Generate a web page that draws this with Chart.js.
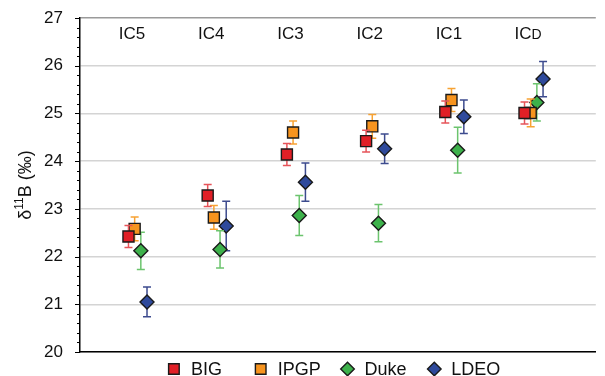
<!DOCTYPE html>
<html>
<head>
<meta charset="utf-8">
<script src="https://cdn.jsdelivr.net/npm/chart.js@4.4.1/dist/chart.umd.min.js"></script>
<style>
html,body{margin:0;padding:0;background:#fff}
canvas{display:block}
</style>
</head>
<body>
<canvas id="chart" width="605" height="376"></canvas>
<script>
const groups=['IC5','IC4','IC3','IC2','IC1','ICD'];
const seriesNames=['BIG','IPGP','Duke','LDEO'];
const big=[22.42,23.28,24.14,24.42,25.03,25.01];
const bigErr=[0.23,0.23,0.23,0.23,0.23,0.23];
const ipgp=[22.58,22.82,24.60,24.73,25.28,25.01];
const ipgpErr=[0.25,0.25,0.24,0.25,0.24,0.29];
const duke=[22.12,22.15,22.86,22.70,24.23,25.23];
const dukeErr=[0.39,0.39,0.42,0.39,0.48,0.39];
const ldeo=[21.05,22.64,23.56,24.26,24.93,25.72];
const ldeoErr=[0.31,0.52,0.40,0.31,0.35,0.37];
const yMin=20, yMax=27;

const FONT="'Liberation Sans', Arial, Helvetica, sans-serif";
const fills=['#e11f26','#f7941e','#3db14b','#2f4a9c'];
const barColors=['#e6545a','#f7a233','#6cc46e','#3d4b8e'];
const shapes=['rect','rect','rectRot','rectRot'];
const radii=[7.8,7.8,7,7];
const step=0.078; // horizontal shift of each series inside a group

const values=[big,ipgp,duke,ldeo], errors=[bigErr,ipgpErr,dukeErr,ldeoErr];

const datasets=seriesNames.map((name,k)=>({
  label:name,
  data:values[k].map((v,i)=>({x:i+k*step,y:v})),
  errors:errors[k],
  backgroundColor:fills[k],
  borderColor:'#1a1a1a',
  borderWidth:1.4,
  pointStyle:shapes[k],
  pointRadius:radii[k],
  pointHoverRadius:radii[k],
  barColor:barColors[k],
  showLine:false
}));

// error bars, drawn just under each series' markers
const errorBars={
  id:'errorBars',
  beforeDatasetDraw(chart,args){
    const ds=chart.data.datasets[args.index];
    const xs=chart.scales.x, ys=chart.scales.y, ctx=chart.ctx;
    ctx.save();
    ctx.strokeStyle=ds.barColor;ctx.lineWidth=1.5;
    ds.data.forEach((p,i)=>{
      const x=xs.getPixelForValue(p.x);
      const y1=ys.getPixelForValue(p.y+ds.errors[i]);
      const y2=ys.getPixelForValue(p.y-ds.errors[i]);
      ctx.beginPath();
      ctx.moveTo(x,y1);ctx.lineTo(x,y2);
      ctx.moveTo(x-4,y1);ctx.lineTo(x+4,y1);
      ctx.moveTo(x-4,y2);ctx.lineTo(x+4,y2);
      ctx.stroke();
    });
    ctx.restore();
  }
};

// minor ticks, top group names, axis title, legend
const decorations={
  id:'decorations',
  afterDraw(chart){
    const ctx=chart.ctx, xs=chart.scales.x, ys=chart.scales.y, a=chart.chartArea;
    ctx.save();
    ctx.strokeStyle='#000';ctx.lineWidth=1;
    for(let v=yMin*5;v<=yMax*5;v++){
      const y=Math.round(ys.getPixelForValue(v/5))+0.5;
      const len=v%5===0?5:3;
      ctx.beginPath();ctx.moveTo(a.left-len,y);ctx.lineTo(a.left,y);ctx.stroke();
    }
    ctx.fillStyle='#111';ctx.textBaseline='middle';
    groups.forEach((g,i)=>{
      const x=xs.getPixelForValue(i+0.045);
      if(g.endsWith('D')){
        ctx.font='17px '+FONT;
        const head=g.slice(0,-1);
        const w1=ctx.measureText(head).width;
        ctx.font='14px '+FONT;
        const w2=ctx.measureText('D').width;
        const x0=x-(w1+w2)/2;
        ctx.textAlign='left';
        ctx.font='17px '+FONT;ctx.fillText(head,x0,a.top+16);
        ctx.font='14px '+FONT;ctx.fillText('D',x0+w1,a.top+17);
      }else{
        ctx.textAlign='center';ctx.font='17px '+FONT;
        ctx.fillText(g,x,a.top+16);
      }
    });
    // y title: δ11B (‰)
    ctx.translate(26,(a.top+a.bottom)/2);
    ctx.rotate(-Math.PI/2);
    ctx.textAlign='left';
    ctx.font='18px '+FONT;const wd=ctx.measureText('δ').width;
    ctx.font='12px '+FONT;const ws=ctx.measureText('11').width;
    ctx.font='18px '+FONT;const wr=ctx.measureText('B (‰)').width;
    let tx=-(wd+ws+wr)/2;
    ctx.fillText('δ',tx,0);tx+=wd;
    ctx.font='12px '+FONT;ctx.fillText('11',tx,-6);tx+=ws;
    ctx.font='18px '+FONT;ctx.fillText('B (‰)',tx,0);
    ctx.restore();

    ctx.save();
    const mid=(a.left+a.right)/2, pitch=86.8, ly=369;
    chart.data.datasets.forEach((ds,k)=>{
      const cx=mid-164+k*pitch;
      ctx.fillStyle=ds.backgroundColor;ctx.strokeStyle=ds.borderColor;ctx.lineWidth=1.4;
      Chart.helpers.drawPoint(ctx,{pointStyle:ds.pointStyle,radius:ds.pointStyle==='rect'?7.5:6.8,borderWidth:1.4},cx,ly);
      ctx.fillStyle='#111';ctx.font='18px '+FONT;ctx.textAlign='left';ctx.textBaseline='middle';
      ctx.fillText(ds.label,cx+17,ly+1);
    });
    ctx.restore();
  }
};

new Chart(document.getElementById('chart'),{
  type:'scatter',
  data:{datasets},
  plugins:[errorBars,decorations],
  options:{
    responsive:false,
    animation:false,
    layout:{padding:{top:18,right:0,bottom:24,left:0}},
    plugins:{legend:{display:false},tooltip:{enabled:false}},
    scales:{
      x:{type:'linear',min:-0.612,max:5.9,
        afterFit(s){s.height=0},
        ticks:{display:false},
        grid:{display:false},
        border:{color:'#000',width:1.5}},
      y:{min:yMin,max:yMax,
        afterFit(s){s.width=80},
        ticks:{stepSize:1,padding:2,color:'#111',font:{size:17,family:FONT}},
        grid:{drawTicks:true,tickLength:15,tickColor:'rgba(0,0,0,0)',
          color:c=>c.tick&&c.tick.value===yMax?'#9a9a9a':'#d4d4d4',lineWidth:1.5},
        border:{color:'#000',width:1.5}}
    }
  }
});
</script>
</body>
</html>
